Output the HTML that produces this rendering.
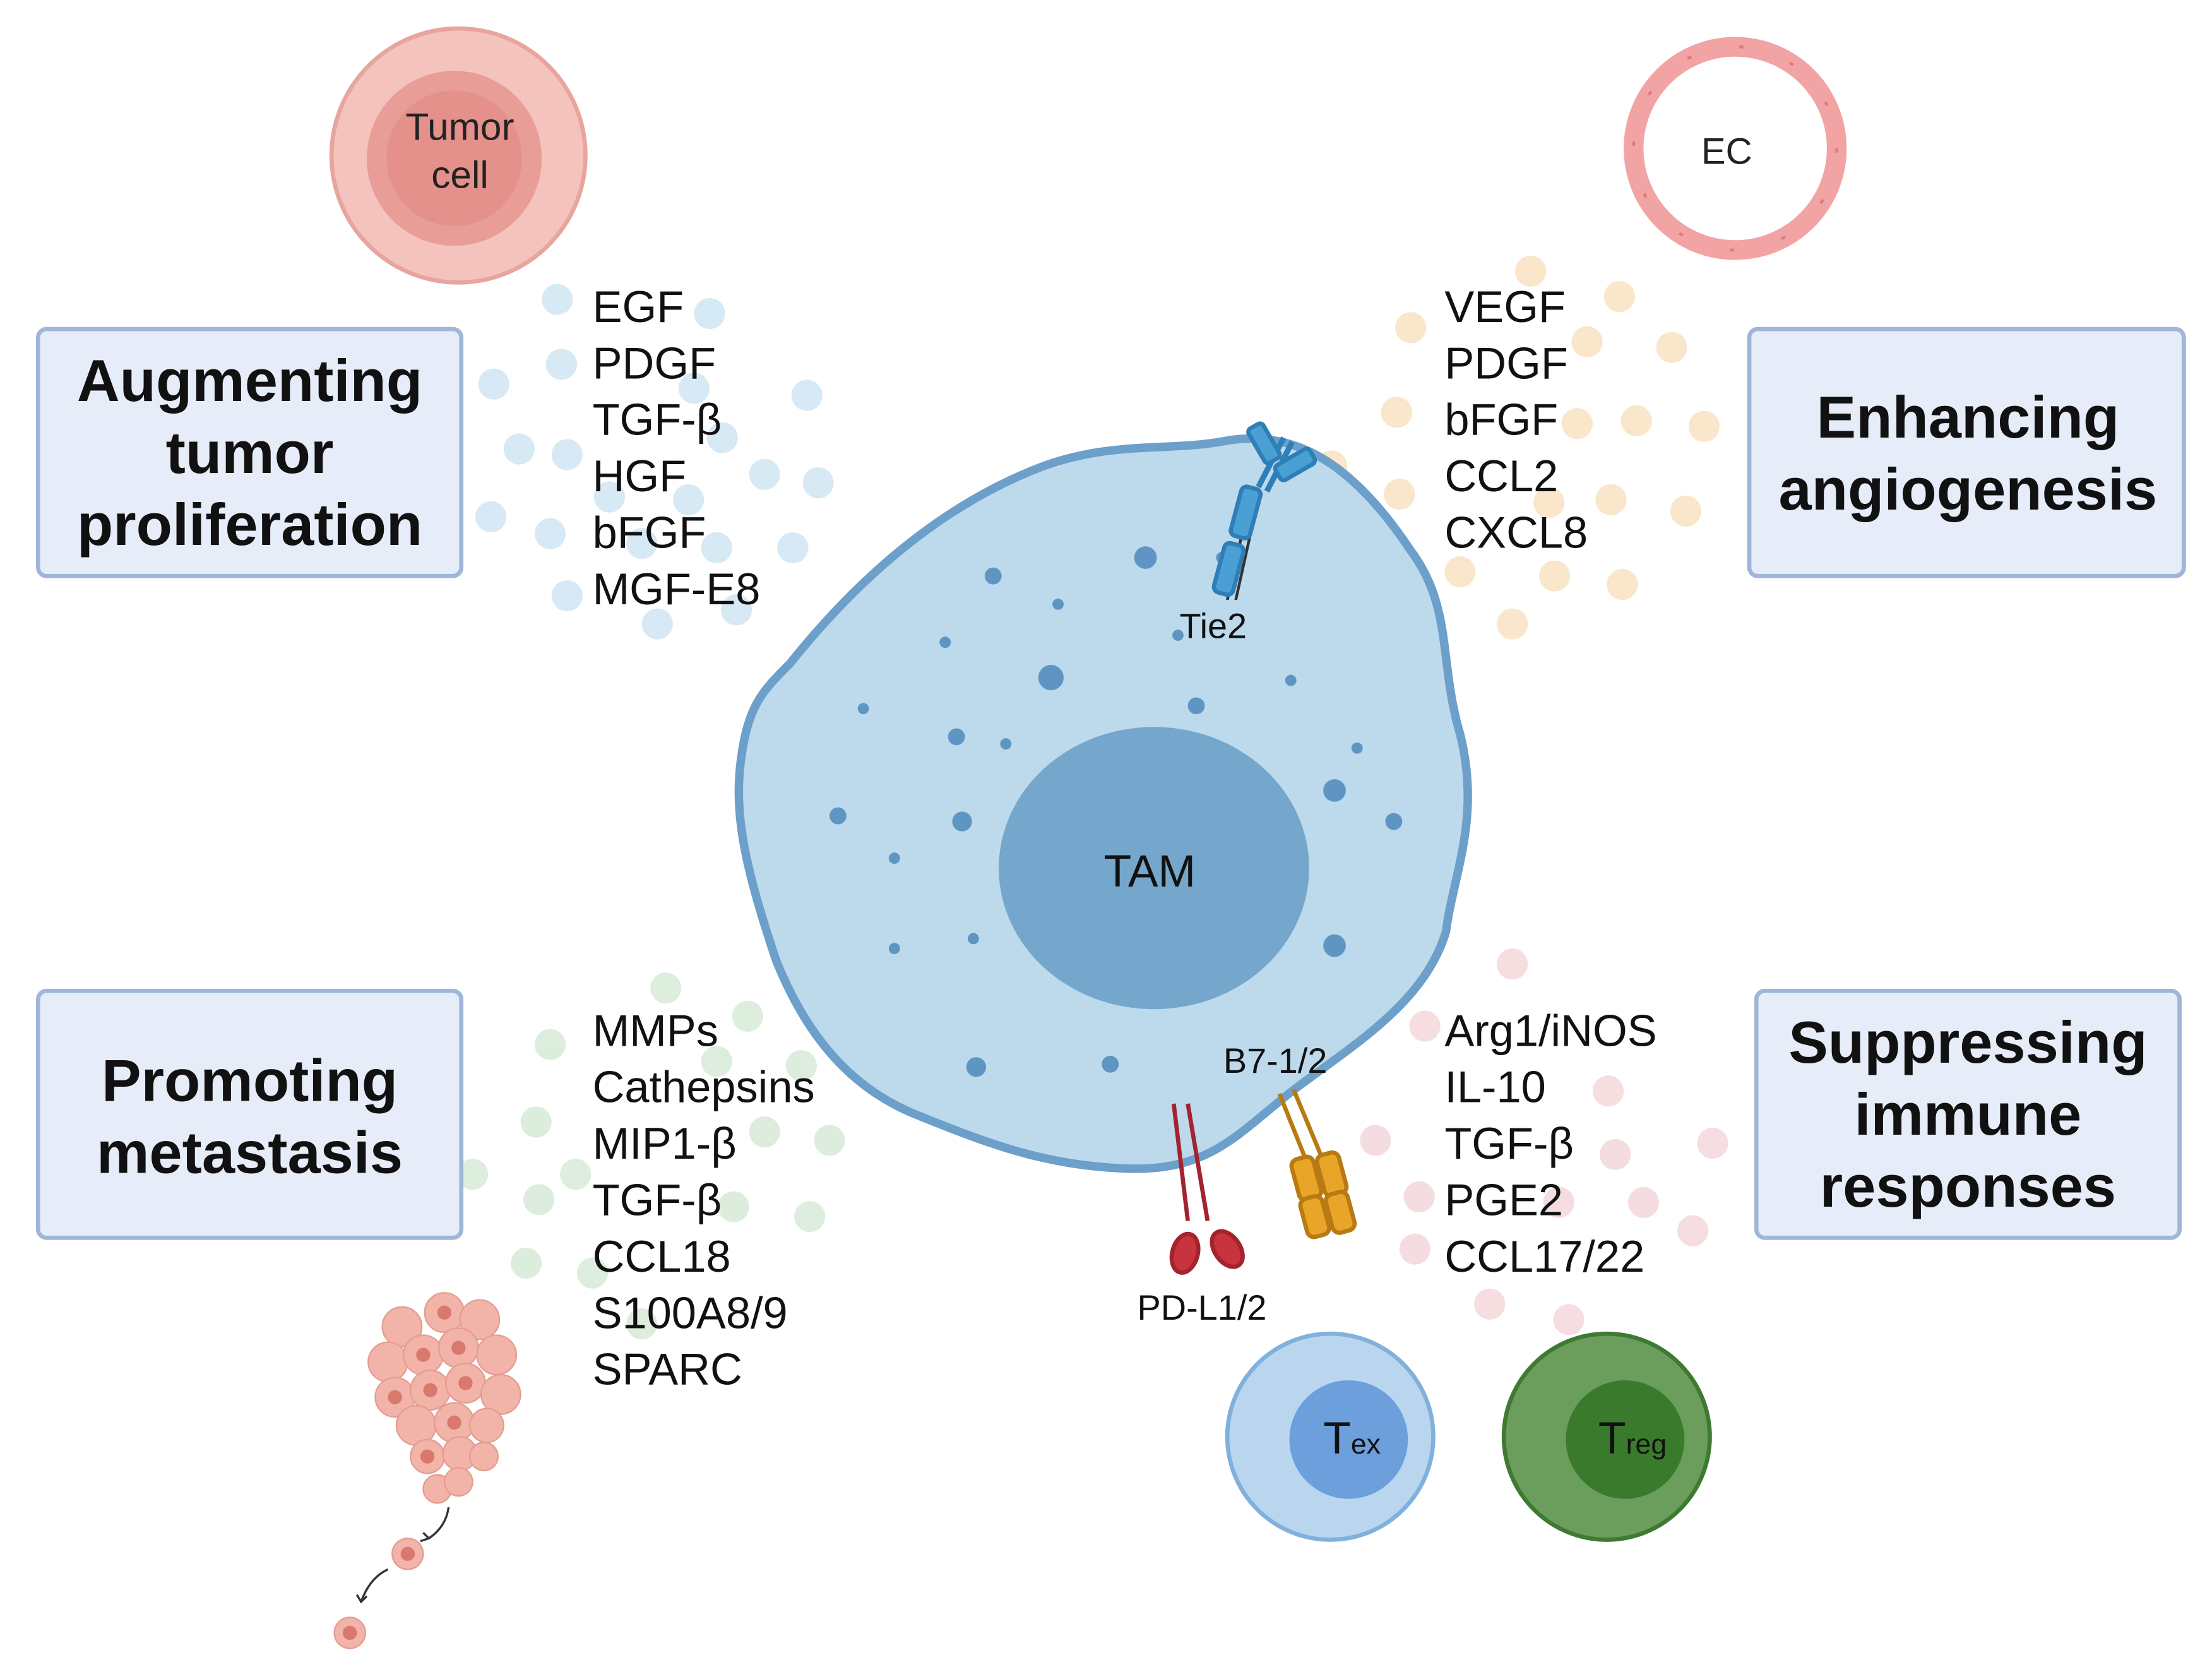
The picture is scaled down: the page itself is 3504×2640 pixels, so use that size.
<!DOCTYPE html>
<html><head><meta charset="utf-8"><style>
html,body{margin:0;padding:0;background:#fff}
svg{display:block}
text{font-family:"Liberation Sans",sans-serif}
</style></head><body>
<svg width="3504" height="2640" viewBox="0 0 1568 1181" xmlns="http://www.w3.org/2000/svg">
<rect width="1568" height="1181" fill="#fff"/>
<!-- dots blue -->
<g fill="#cfe6f3" opacity="0.85">
<circle cx="395" cy="212" r="11"/><circle cx="503" cy="222" r="11"/><circle cx="398" cy="258" r="11"/><circle cx="350" cy="272" r="11"/><circle cx="492" cy="275" r="11"/><circle cx="572" cy="280" r="11"/><circle cx="368" cy="318" r="11"/><circle cx="402" cy="322" r="11"/><circle cx="512" cy="310" r="11"/><circle cx="542" cy="336" r="11"/><circle cx="580" cy="342" r="11"/><circle cx="432" cy="352" r="11"/><circle cx="488" cy="354" r="11"/><circle cx="348" cy="366" r="11"/><circle cx="390" cy="378" r="11"/><circle cx="455" cy="385" r="11"/><circle cx="508" cy="388" r="11"/><circle cx="562" cy="388" r="11"/><circle cx="402" cy="422" r="11"/><circle cx="522" cy="432" r="11"/><circle cx="466" cy="442" r="11"/>
</g>
<!-- dots orange -->
<g fill="#f8e2c2" opacity="0.85">
<circle cx="1085" cy="192" r="11"/><circle cx="1148" cy="210" r="11"/><circle cx="1000" cy="232" r="11"/><circle cx="1125" cy="242" r="11"/><circle cx="1185" cy="246" r="11"/><circle cx="990" cy="292" r="11"/><circle cx="1118" cy="300" r="11"/><circle cx="1160" cy="298" r="11"/><circle cx="1208" cy="302" r="11"/><circle cx="944" cy="330" r="11"/><circle cx="992" cy="350" r="11"/><circle cx="1098" cy="356" r="11"/><circle cx="1142" cy="354" r="11"/><circle cx="1195" cy="362" r="11"/><circle cx="985" cy="400" r="11"/><circle cx="1035" cy="405" r="11"/><circle cx="1102" cy="408" r="11"/><circle cx="1150" cy="414" r="11"/><circle cx="1072" cy="442" r="11"/>
</g>
<!-- dots green -->
<g fill="#d8ebd8" opacity="0.85">
<circle cx="472" cy="700" r="11"/><circle cx="530" cy="720" r="11"/><circle cx="390" cy="740" r="11"/><circle cx="508" cy="752" r="11"/><circle cx="568" cy="755" r="11"/><circle cx="380" cy="795" r="11"/><circle cx="542" cy="802" r="11"/><circle cx="588" cy="808" r="11"/><circle cx="408" cy="832" r="11"/><circle cx="335" cy="832" r="11"/><circle cx="382" cy="850" r="11"/><circle cx="520" cy="855" r="11"/><circle cx="574" cy="862" r="11"/><circle cx="373" cy="895" r="11"/><circle cx="420" cy="902" r="11"/><circle cx="455" cy="938" r="11"/>
</g>
<!-- dots red -->
<g fill="#f3d7db" opacity="0.85">
<circle cx="1072" cy="683" r="11"/><circle cx="1010" cy="727" r="11"/><circle cx="1140" cy="773" r="11"/><circle cx="975" cy="808" r="11"/><circle cx="1214" cy="810" r="11"/><circle cx="1145" cy="818" r="11"/><circle cx="1006" cy="848" r="11"/><circle cx="1105" cy="852" r="11"/><circle cx="1165" cy="852" r="11"/><circle cx="1200" cy="872" r="11"/><circle cx="1003" cy="885" r="11"/><circle cx="1056" cy="924" r="11"/><circle cx="1112" cy="935" r="11"/>
</g>
<!-- Tumor cell -->
<circle cx="325" cy="110" r="90" fill="#f4c3bd" stroke="#e8a59d" stroke-width="3"/>
<circle cx="322" cy="112" r="62" fill="#e89d97"/>
<circle cx="322" cy="112" r="48" fill="#e4908b"/>
<text x="326" y="99" font-size="27" text-anchor="middle" fill="#222">Tumor</text>
<text x="326" y="133" font-size="27" text-anchor="middle" fill="#222">cell</text>
<!-- EC -->
<circle cx="1230" cy="105" r="72" fill="none" stroke="#f2a3a3" stroke-width="14"/>
<circle cx="1230" cy="105" r="72" fill="none" stroke="#e07a7a" stroke-width="2" stroke-dasharray="3 35"/>
<text x="1224" y="116" font-size="26" text-anchor="middle" fill="#222">EC</text>
<!-- Boxes -->
<g fill="#e6edf8" stroke="#9fb6d8" stroke-width="3">
<rect x="27" y="233" width="300" height="175" rx="6"/>
<rect x="1240" y="233" width="308" height="175" rx="6"/>
<rect x="27" y="702" width="300" height="175" rx="6"/>
<rect x="1245" y="702" width="300" height="175" rx="6"/>
</g>
<g font-size="42" font-weight="bold" text-anchor="middle" fill="#111">
<text x="177" y="284">Augmenting</text><text x="177" y="335">tumor</text><text x="177" y="386">proliferation</text>
<text x="1395" y="310">Enhancing</text><text x="1395" y="361">angiogenesis</text>
<text x="177" y="780">Promoting</text><text x="177" y="831">metastasis</text>
<text x="1395" y="753">Suppressing</text><text x="1395" y="804">immune</text><text x="1395" y="855">responses</text>
</g>
<!-- TAM -->
<path d="M560,470 C600,420 660,360 740,330 C790,312 830,320 870,312 C920,304 960,330 1000,390 C1030,430 1020,470 1035,520 C1050,580 1030,620 1025,660 C1010,710 960,740 920,770 C880,800 860,830 800,828 C740,826 700,810 650,790 C600,770 570,730 550,680 C530,620 520,580 525,540 C530,500 540,490 560,470 Z" fill="#bcdaec" stroke="#6c9fc9" stroke-width="6"/>
<g fill="#5f95c2">
<circle cx="704" cy="408" r="6"/><circle cx="812" cy="395" r="8"/><circle cx="750" cy="428" r="4"/><circle cx="670" cy="455" r="4"/><circle cx="745" cy="480" r="9"/><circle cx="612" cy="502" r="4"/><circle cx="678" cy="522" r="6"/><circle cx="713" cy="527" r="4"/><circle cx="848" cy="500" r="6"/><circle cx="915" cy="482" r="4"/><circle cx="962" cy="530" r="4"/><circle cx="594" cy="578" r="6"/><circle cx="682" cy="582" r="7"/><circle cx="946" cy="560" r="8"/><circle cx="988" cy="582" r="6"/><circle cx="634" cy="608" r="4"/><circle cx="634" cy="672" r="4"/><circle cx="690" cy="665" r="4"/><circle cx="946" cy="670" r="8"/><circle cx="692" cy="756" r="7"/><circle cx="787" cy="754" r="6"/><circle cx="835" cy="450" r="4"/><circle cx="866" cy="395" r="4"/>
</g>
<ellipse cx="818" cy="615" rx="110" ry="100" fill="#75a6cb"/>
<text x="815" y="628" font-size="32" text-anchor="middle" fill="#111">TAM</text>
<!-- Tie2 -->
<g stroke="#2e7fb8" stroke-width="3" fill="#4aa0d4">
<line x1="870" y1="425" x2="880" y2="380" stroke="#333" stroke-width="2"/>
<line x1="876" y1="425" x2="886" y2="380" stroke="#333" stroke-width="2"/>
<rect x="864" y="385" width="14" height="36" rx="4" transform="rotate(15 871 403)"/>
<rect x="876" y="345" width="14" height="36" rx="4" transform="rotate(15 883 363)"/>
<line x1="892" y1="345" x2="910" y2="310" stroke="#2e7fb8" stroke-width="4"/>
<line x1="898" y1="348" x2="916" y2="313" stroke="#2e7fb8" stroke-width="4"/>
<rect x="890" y="300" width="12" height="28" rx="3" transform="rotate(-30 896 314)"/>
<rect x="912" y="315" width="12" height="28" rx="3" transform="rotate(60 918 329)"/>
</g>
<text x="860" y="452" font-size="25" text-anchor="middle" fill="#111">Tie2</text>
<!-- PD-L1 -->
<g stroke="#a3232e" stroke-width="3" fill="#c8333e">
<line x1="832" y1="782" x2="842" y2="865"/><line x1="842" y1="782" x2="856" y2="865"/>
<ellipse cx="840" cy="888" rx="9" ry="14" transform="rotate(15 840 888)"/>
<ellipse cx="870" cy="885" rx="9" ry="14" transform="rotate(-35 870 885)"/>
</g>
<text x="852" y="935" font-size="25" text-anchor="middle" fill="#111">PD-L1/2</text>
<!-- B7 -->
<g stroke="#b87a12" stroke-width="3" fill="#e9a527">
<line x1="907" y1="775" x2="925" y2="820"/><line x1="917" y1="772" x2="937" y2="820"/>
<rect x="918" y="820" width="16" height="30" rx="5" transform="rotate(-15 926 835)"/>
<rect x="936" y="817" width="16" height="30" rx="5" transform="rotate(-15 944 832)"/>
<rect x="924" y="848" width="16" height="28" rx="5" transform="rotate(-15 932 862)"/>
<rect x="942" y="845" width="16" height="28" rx="5" transform="rotate(-15 950 859)"/>
</g>
<text x="904" y="760" font-size="25" text-anchor="middle" fill="#111">B7-1/2</text>
<!-- Tex Treg -->
<circle cx="943" cy="1018" r="73" fill="#bad6ef" stroke="#80b1dc" stroke-width="3"/>
<circle cx="956" cy="1020" r="42" fill="#6c9fdc"/>
<text x="938" y="1030" font-size="32" fill="#111">T<tspan font-size="20">ex</tspan></text>
<circle cx="1139" cy="1018" r="73" fill="#6b9d5c" stroke="#3f7a33" stroke-width="3"/>
<circle cx="1152" cy="1020" r="42" fill="#3a7a2c"/>
<text x="1133" y="1030" font-size="32" fill="#111">T<tspan font-size="20">reg</tspan></text>
<!-- lists -->
<g font-size="31.5" fill="#111">
<text x="420" y="228">EGF</text><text x="420" y="268">PDGF</text><text x="420" y="308">TGF-β</text><text x="420" y="348">HGF</text><text x="420" y="388">bFGF</text><text x="420" y="428">MGF-E8</text>
<text x="1024" y="228">VEGF</text><text x="1024" y="268">PDGF</text><text x="1024" y="308">bFGF</text><text x="1024" y="348">CCL2</text><text x="1024" y="388">CXCL8</text>
<text x="420" y="741">MMPs</text><text x="420" y="781">Cathepsins</text><text x="420" y="821">MIP1-β</text><text x="420" y="861">TGF-β</text><text x="420" y="901">CCL18</text><text x="420" y="941">S100A8/9</text><text x="420" y="981">SPARC</text>
<text x="1024" y="741">Arg1/iNOS</text><text x="1024" y="781">IL-10</text><text x="1024" y="821">TGF-β</text><text x="1024" y="861">PGE2</text><text x="1024" y="901">CCL17/22</text>
</g>
<!-- metastasis cluster -->
<g fill="#f2b3a8" stroke="#e39c90" stroke-width="1">
<circle cx="285" cy="940" r="14"/><circle cx="315" cy="930" r="14"/><circle cx="340" cy="935" r="14"/><circle cx="275" cy="965" r="14"/><circle cx="300" cy="960" r="14"/><circle cx="325" cy="955" r="14"/><circle cx="352" cy="960" r="14"/><circle cx="280" cy="990" r="14"/><circle cx="305" cy="985" r="14"/><circle cx="330" cy="980" r="14"/><circle cx="355" cy="988" r="14"/><circle cx="295" cy="1010" r="14"/><circle cx="322" cy="1008" r="14"/><circle cx="345" cy="1010" r="12"/><circle cx="303" cy="1032" r="12"/><circle cx="326" cy="1030" r="12"/><circle cx="343" cy="1032" r="10"/><circle cx="310" cy="1055" r="10"/><circle cx="325" cy="1050" r="10"/>
<circle cx="289" cy="1101" r="11"/><circle cx="248" cy="1157" r="11"/>
</g>
<g fill="#d9786c"><circle cx="300" cy="960" r="5"/><circle cx="325" cy="955" r="5"/><circle cx="305" cy="985" r="5"/><circle cx="330" cy="980" r="5"/><circle cx="322" cy="1008" r="5"/><circle cx="303" cy="1032" r="5"/><circle cx="289" cy="1101" r="5"/><circle cx="248" cy="1157" r="5"/><circle cx="315" cy="930" r="5"/><circle cx="280" cy="990" r="5"/></g>
<g stroke="#333" stroke-width="1.5" fill="none">
<path d="M318,1068 Q316,1082 304,1090"/><path d="M300,1086 L304,1090 L298,1092"/>
<path d="M275,1112 Q262,1118 256,1135"/><path d="M253,1130 L256,1135 L260,1131"/>
</g>
</svg>
</body></html>
